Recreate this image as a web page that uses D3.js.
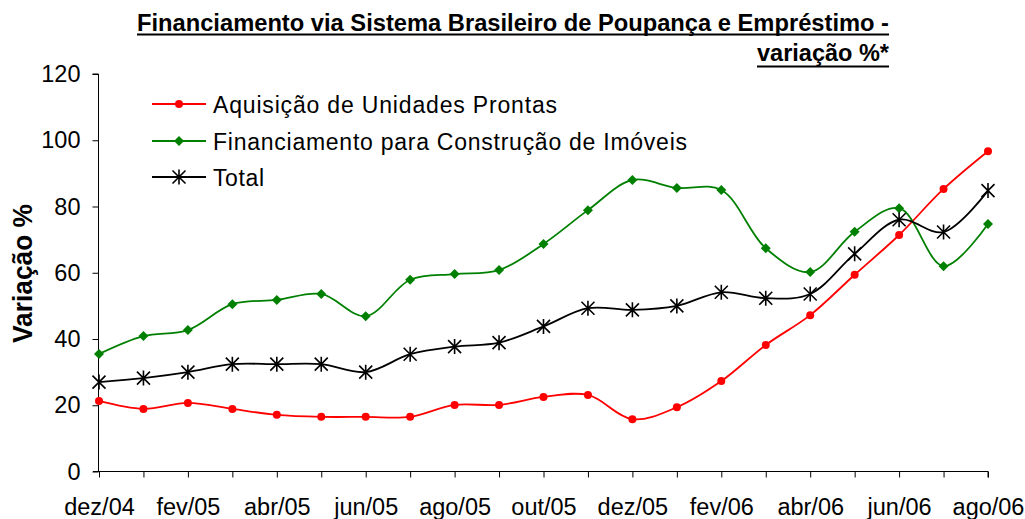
<!DOCTYPE html>
<html>
<head>
<meta charset="utf-8">
<script src="https://cdn.jsdelivr.net/npm/d3@7"></script>
<style>
  html, body { margin: 0; padding: 0; background: #fff; }
  svg { display: block; font-family: "Liberation Sans", Arial, sans-serif; }
</style>
</head>
<body>
<svg id="chart" width="1025" height="519"></svg>
<script>
const months = ["dez/04","jan/05","fev/05","mar/05","abr/05","mai/05","jun/05","jul/05","ago/05","set/05","out/05","nov/05","dez/05","jan/06","fev/06","mar/06","abr/06","mai/06","jun/06","jul/06","ago/06"];
const tickLabels = ["dez/04","fev/05","abr/05","jun/05","ago/05","out/05","dez/05","fev/06","abr/06","jun/06","ago/06"];
const yTicks = [0, 20, 40, 60, 80, 100, 120];

const aquisicao = [21.3, 18.9, 20.7, 18.9, 17.1, 16.5, 16.5, 16.5, 20.1, 20.1, 22.5, 23.1, 15.8, 19.4, 27.3, 38.2, 47.2, 59.4, 71.4, 85.3, 96.7];
const construcao = [35.5, 40.9, 42.7, 50.5, 51.8, 53.6, 46.9, 57.9, 59.6, 60.8, 68.7, 78.9, 88.0, 85.6, 85.0, 67.4, 60.2, 72.4, 79.5, 62.0, 74.7];
const total = [27.0, 28.2, 30.0, 32.4, 32.4, 32.4, 30.0, 35.4, 37.7, 38.9, 43.8, 49.3, 48.8, 50.0, 54.1, 52.3, 53.6, 65.7, 76.0, 72.3, 84.8];

const seriesNames = ["Aquisição de Unidades Prontas", "Financiamento para Construção de Imóveis", "Total"];
const seriesColors = ["#ff0000", "#008000", "#000000"];
const seriesMarkers = ["circle", "diamond", "star"];
const seriesData = [aquisicao, construcao, total];

const titleLine1 = "Financiamento via Sistema Brasileiro de Poupança e Empréstimo -";
const titleLine2 = "variação %*";
const yTitle = "Variação %";

const svg = d3.select("#chart");
svg.append("rect").attr("width", 1025).attr("height", 519).attr("fill", "#fff");

const x = d3.scalePoint().domain(months).range([99, 988]).padding(0);
const y = d3.scaleLinear().domain([0, 120]).range([471.5, 74]);

// Title
svg.append("text").attr("x", 889).attr("y", 31).attr("text-anchor", "end")
  .attr("font-size", 23).attr("font-weight", "bold").attr("textLength", 752).attr("lengthAdjust", "spacingAndGlyphs")
  .text(titleLine1);
svg.append("line").attr("x1", 137).attr("x2", 889).attr("y1", 34.5).attr("y2", 34.5).attr("stroke", "#000").attr("stroke-width", 2);
svg.append("text").attr("x", 889).attr("y", 61).attr("text-anchor", "end")
  .attr("font-size", 23).attr("font-weight", "bold").attr("textLength", 132).attr("lengthAdjust", "spacingAndGlyphs")
  .text(titleLine2);
svg.append("line").attr("x1", 757).attr("x2", 889).attr("y1", 66.5).attr("y2", 66.5).attr("stroke", "#000").attr("stroke-width", 2);

// Axes
const yAxis = d3.axisLeft(y).tickValues(yTicks).tickSize(6).tickPadding(12).tickFormat(d3.format("d"));
const gy = svg.append("g").attr("transform", "translate(98.5,0)").call(yAxis);
gy.select(".domain").attr("stroke", "#000").attr("d", `M-6,${y(120)}H0V${y(0)}`);
gy.selectAll(".tick line").attr("stroke", "#000");
gy.selectAll(".tick text").attr("font-size", 23.5).attr("fill", "#000").attr("font-family", "Liberation Sans, Arial, sans-serif");

const xAxis = d3.axisBottom(x).tickSize(6).tickPadding(21)
  .tickFormat(d => tickLabels.includes(d) ? d : "");
const gx = svg.append("g").attr("transform", `translate(0,${y(0)})`).call(xAxis);
gx.select(".domain").attr("stroke", "#000").attr("d", `M93,0H${x("ago/06")}V6`);
gx.selectAll(".tick line").attr("stroke", "#000");
gx.selectAll(".tick text").attr("font-size", 23.5).attr("fill", "#000").attr("font-family", "Liberation Sans, Arial, sans-serif");

// Y title
svg.append("text").attr("transform", `translate(32,273.5) rotate(-90)`)
  .attr("text-anchor", "middle").attr("font-size", 27).attr("font-weight", "bold")
  .attr("textLength", 139).attr("lengthAdjust", "spacingAndGlyphs").text(yTitle);

// Lines
const line = d3.line().x((d, i) => x(months[i])).y(d => y(d)).curve(d3.curveCatmullRom.alpha(0.5));

function drawMarker(g, type, color, cx, cy) {
  if (type === "circle") {
    g.append("circle").attr("cx", cx).attr("cy", cy).attr("r", 4).attr("fill", color);
  } else if (type === "diamond") {
    const s = 5;
    g.append("path").attr("d", `M${cx},${cy - s}L${cx + s},${cy}L${cx},${cy + s}L${cx - s},${cy}Z`).attr("fill", color);
  } else {
    const s = 6.5;
    g.append("path").attr("d", `M${cx - s},${cy - s}L${cx + s},${cy + s}M${cx - s},${cy + s}L${cx + s},${cy - s}M${cx},${cy - s - 1}L${cx},${cy + s + 1}`)
      .attr("stroke", color).attr("stroke-width", 1.6).attr("fill", "none");
  }
}

seriesData.forEach((data, si) => {
  const g = svg.append("g");
  g.append("path").datum(data).attr("d", line).attr("fill", "none")
    .attr("stroke", seriesColors[si]).attr("stroke-width", 1.8);
  data.forEach((v, i) => drawMarker(g, seriesMarkers[si], seriesColors[si], x(months[i]), y(v)));
});

// Legend
const legendY = [104, 141, 177];
const legendW = [344, 474, 51];
seriesNames.forEach((name, i) => {
  const g = svg.append("g");
  g.append("line").attr("x1", 152).attr("x2", 206).attr("y1", legendY[i]).attr("y2", legendY[i])
    .attr("stroke", seriesColors[i]).attr("stroke-width", 1.8);
  drawMarker(g, seriesMarkers[i], seriesColors[i], 179, legendY[i]);
  g.append("text").attr("x", 213).attr("y", legendY[i] + 8.5).attr("font-size", 23)
    .attr("textLength", legendW[i]).attr("lengthAdjust", "spacing").text(name);
});
</script>
</body>
</html>
